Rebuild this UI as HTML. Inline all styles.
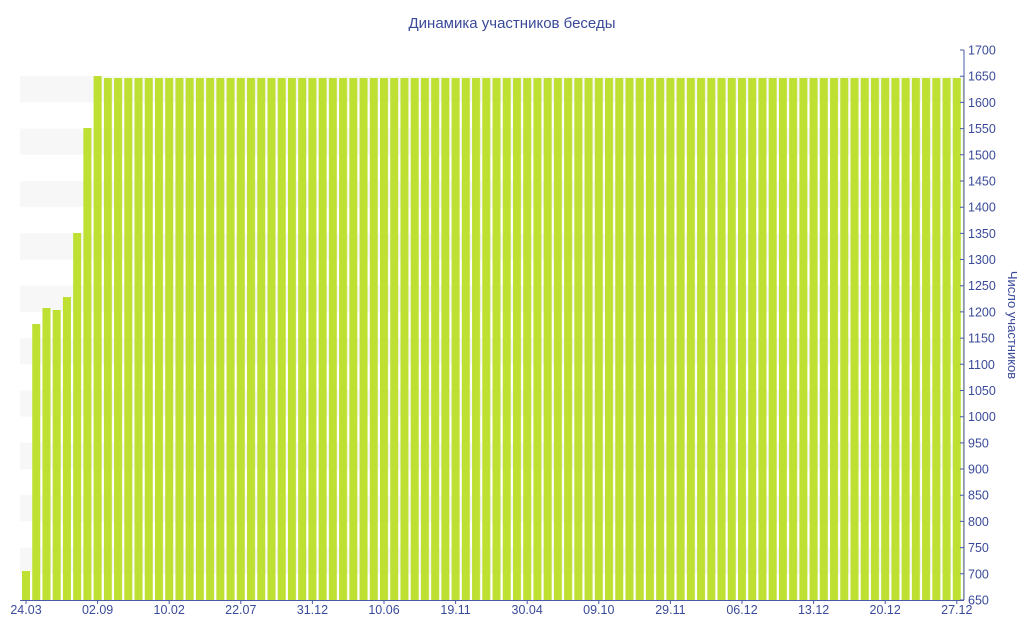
<!DOCTYPE html>
<html><head><meta charset="utf-8"><style>body{margin:0;background:#fff}svg{display:block}</style></head>
<body>
<svg width="1024" height="640" xmlns="http://www.w3.org/2000/svg" font-family="'Liberation Sans','DejaVu Sans',sans-serif">
<defs>
<pattern id="bp" x="22" y="0" width="10.2283" height="640" patternUnits="userSpaceOnUse">
<rect x="0" y="0" width="8.03" height="640" fill="#bde032"/>
</pattern>
</defs>
<text x="512" y="28" text-anchor="middle" font-size="15" fill="#3a4a9a">Динамика участников беседы</text>
<g fill="#f7f7f7">
<rect x="20" y="76.2" width="944" height="26.2"/>
<rect x="20" y="128.6" width="944" height="26.2"/>
<rect x="20" y="181.0" width="944" height="26.2"/>
<rect x="20" y="233.4" width="944" height="26.2"/>
<rect x="20" y="285.7" width="944" height="26.2"/>
<rect x="20" y="338.1" width="944" height="26.2"/>
<rect x="20" y="390.5" width="944" height="26.2"/>
<rect x="20" y="442.9" width="944" height="26.2"/>
<rect x="20" y="495.2" width="944" height="26.2"/>
<rect x="20" y="547.6" width="944" height="26.2"/>
</g>
<g fill="#bde032">
<rect x="22" y="571" width="8.03" height="29"/>
<rect x="32.23" y="324" width="8.03" height="276"/>
<rect x="42.46" y="308" width="8.03" height="292"/>
<rect x="52.68" y="310" width="8.03" height="290"/>
<rect x="62.91" y="297" width="8.03" height="303"/>
<rect x="73.14" y="233" width="8.03" height="367"/>
<rect x="83.37" y="128" width="8.03" height="472"/>
<rect x="93.60" y="76" width="8.03" height="524"/>
</g>
<rect x="103.83" y="78" width="859.5" height="522" fill="url(#bp)"/>
<line x1="964" y1="50" x2="964" y2="600" stroke="#4a5aa8" stroke-width="1"/>
<line x1="20" y1="600.5" x2="964" y2="600.5" stroke="#4a5aa8" stroke-width="1"/>
<path stroke="#4a5aa8" stroke-width="1" d="M960 600H964M960 573.8H964M960 547.6H964M960 521.4H964M960 495.2H964M960 469H964M960 442.9H964M960 416.7H964M960 390.5H964M960 364.3H964M960 338.1H964M960 311.9H964M960 285.7H964M960 259.5H964M960 233.4H964M960 207.2H964M960 181H964M960 154.8H964M960 128.6H964M960 102.4H964M960 76.2H964M960 50H964
M26 600V604M97.6 600V604M169.2 600V604M240.8 600V604M312.4 600V604M384 600V604M455.6 600V604M527.2 600V604M598.8 600V604M670.4 600V604M742 600V604M813.6 600V604M885.2 600V604M956.8 600V604"/>
<g font-size="12.5" fill="#3a4a9a">
<text x="968" y="604.5">650</text>
<text x="968" y="578.3">700</text>
<text x="968" y="552.1">750</text>
<text x="968" y="525.9">800</text>
<text x="968" y="499.7">850</text>
<text x="968" y="473.5">900</text>
<text x="968" y="447.4">950</text>
<text x="968" y="421.2">1000</text>
<text x="968" y="395">1050</text>
<text x="968" y="368.8">1100</text>
<text x="968" y="342.6">1150</text>
<text x="968" y="316.4">1200</text>
<text x="968" y="290.2">1250</text>
<text x="968" y="264">1300</text>
<text x="968" y="237.9">1350</text>
<text x="968" y="211.7">1400</text>
<text x="968" y="185.5">1450</text>
<text x="968" y="159.3">1500</text>
<text x="968" y="133.1">1550</text>
<text x="968" y="106.9">1600</text>
<text x="968" y="80.7">1650</text>
<text x="968" y="54.5">1700</text>
</g>
<g font-size="12.5" fill="#3a4a9a" text-anchor="middle">
<text x="26" y="614">24.03</text>
<text x="97.6" y="614">02.09</text>
<text x="169.2" y="614">10.02</text>
<text x="240.8" y="614">22.07</text>
<text x="312.4" y="614">31.12</text>
<text x="384" y="614">10.06</text>
<text x="455.6" y="614">19.11</text>
<text x="527.2" y="614">30.04</text>
<text x="598.8" y="614">09.10</text>
<text x="670.4" y="614">29.11</text>
<text x="742" y="614">06.12</text>
<text x="813.6" y="614">13.12</text>
<text x="885.2" y="614">20.12</text>
<text x="956.8" y="614">27.12</text>
</g>
<text transform="translate(1008,325) rotate(90)" text-anchor="middle" font-size="13" fill="#3a4a9a">Число участников</text>
</svg>
</body></html>
